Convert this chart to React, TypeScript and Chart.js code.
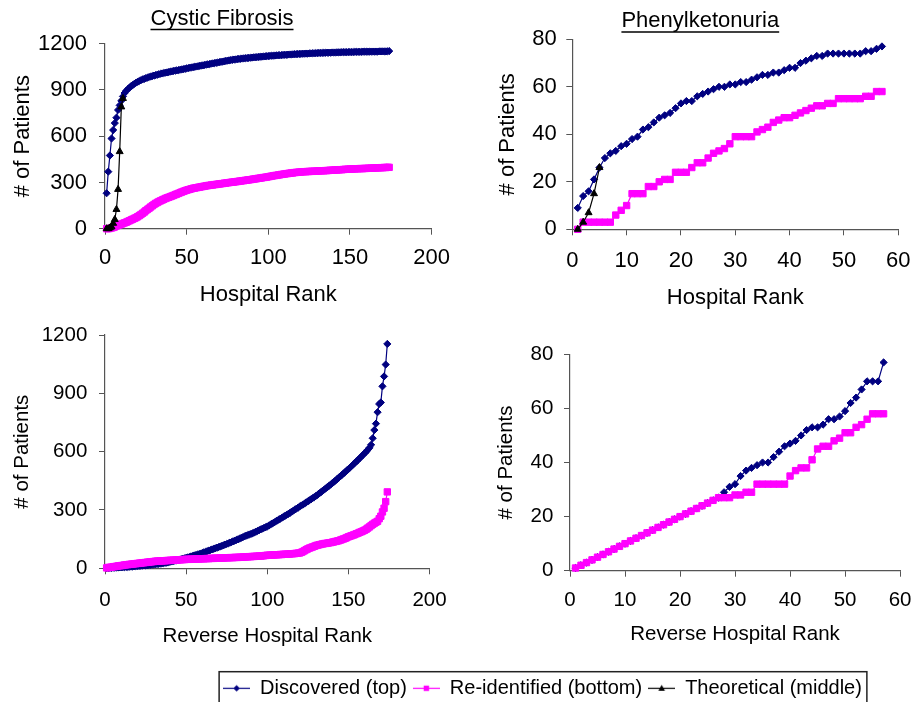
import React, { useEffect, useRef } from 'react';
import { Chart, registerables } from 'chart.js';

Chart.register(...registerables);

const FONT = "'Liberation Sans', Arial, Helvetica, sans-serif";
const NAVY = '#000080';
const MAGENTA = '#ff00ff';
const BLACK = '#000000';
const AXIS = '#555555';

const seriesLabels = ['Discovered (top)', 'Re-identified (bottom)', 'Theoretical (middle)'];
const panelTitles = ['Cystic Fibrosis', 'Phenylketonuria'];
const xTitles = ['Hospital Rank', 'Reverse Hospital Rank'];
const yTitle = '# of Patients';

// ---------- Cystic Fibrosis, hospital rank (174 hospitals) ----------
const cfDiscovered = [
  230, 370, 475, 585, 640, 685, 720, 770, 800, 830,
  858, 880, 895, 905, 915, 925, 932, 940, 947, 953,
  958, 963, 968, 972, 976, 980, 984, 987, 990, 993,
  996, 999, 1002, 1005, 1007, 1010, 1012, 1014, 1016, 1019,
  1021, 1023, 1025, 1027, 1029, 1031, 1033, 1035, 1037, 1040,
  1042, 1044, 1046, 1048, 1050, 1052, 1054, 1056, 1058, 1060,
  1062, 1064, 1066, 1068, 1070, 1072, 1074, 1076, 1078, 1080,
  1082, 1084, 1086, 1088, 1090, 1092, 1094, 1095, 1097, 1098,
  1100, 1101, 1102, 1104, 1105, 1106, 1107, 1108, 1109, 1110,
  1111, 1112, 1113, 1114, 1115, 1116, 1117, 1118, 1119, 1120,
  1121, 1122, 1122, 1123, 1124, 1125, 1125, 1126, 1127, 1128,
  1128, 1129, 1130, 1130, 1131, 1132, 1132, 1133, 1134, 1134,
  1135, 1135, 1136, 1136, 1137, 1137, 1138, 1138, 1139, 1139,
  1140, 1140, 1140, 1141, 1141, 1142, 1142, 1142, 1143, 1143,
  1143, 1144, 1144, 1144, 1145, 1145, 1145, 1145, 1146, 1146,
  1146, 1146, 1147, 1147, 1147, 1147, 1147, 1148, 1148, 1148,
  1148, 1148, 1149, 1149, 1149, 1149, 1149, 1150, 1150, 1150,
  1150, 1150, 1151, 1152,
];
const cfReidentified = [
  0, 0, 2, 5, 8, 12, 18, 22, 26, 30,
  34, 38, 42, 47, 52, 57, 62, 67, 72, 78,
  85, 92, 100, 108, 117, 125, 133, 141, 149, 157,
  164, 170, 176, 181, 186, 191, 196, 200, 204, 208,
  212, 216, 221, 225, 229, 234, 238, 242, 246, 250,
  253, 256, 259, 262, 264, 266, 268, 270, 272, 274,
  276, 278, 280, 281, 283, 284, 286, 287, 289, 290,
  292, 293, 295, 296, 298, 299, 301, 302, 303, 305,
  306, 308, 309, 311, 312, 314, 315, 317, 318, 320,
  322, 323, 325, 327, 328, 330, 332, 333, 335, 337,
  339, 341, 343, 345, 346, 348, 350, 352, 353, 355,
  357, 358, 360, 361, 362, 364, 365, 366, 367, 368,
  369, 370, 370, 371, 371, 372, 372, 373, 373, 374,
  375, 375, 376, 376, 377, 377, 378, 379, 379, 380,
  381, 381, 382, 383, 383, 384, 385, 385, 386, 387,
  387, 388, 388, 389, 389, 390, 390, 390, 391, 391,
  392, 392, 393, 393, 394, 394, 395, 395, 396, 396,
  397, 397, 398, 398,
];
const cfTheoretical = [0, 0, 5, 12, 35, 60, 125, 255, 500, 790, 845];

// ---------- Cystic Fibrosis, reverse hospital rank ----------
const cfRevDiscovered = [
  1, 1, 2, 2, 3, 3, 4, 4, 5, 5,
  6, 6, 7, 7, 8, 9, 9, 10, 11, 12,
  12, 13, 14, 15, 15, 16, 17, 18, 19, 20,
  21, 22, 23, 24, 25, 27, 28, 29, 31, 33,
  35, 37, 39, 41, 43, 45, 47, 49, 51, 54,
  56, 58, 61, 63, 66, 68, 71, 73, 76, 79,
  82, 85, 88, 91, 94, 97, 100, 103, 106, 109,
  112, 115, 118, 122, 125, 128, 132, 135, 139, 142,
  146, 149, 153, 157, 160, 164, 168, 171, 174, 177,
  180, 184, 188, 192, 196, 200, 204, 208, 211, 215,
  220, 225, 230, 235, 240, 245, 250, 255, 260, 265,
  270, 275, 280, 285, 291, 296, 302, 307, 312, 318,
  323, 328, 333, 339, 344, 350, 355, 361, 366, 372,
  378, 385, 391, 398, 404, 411, 417, 424, 430, 437,
  444, 451, 458, 466, 473, 480, 488, 495, 503, 510,
  518, 526, 534, 542, 550, 558, 566, 575, 583, 592,
  600, 610, 620, 635, 669, 711, 744, 803, 845, 853,
  936, 987, 1048, 1154,
];
const cfRevReidentified = [
  2, 4, 5, 6, 8, 9, 10, 12, 13, 14,
  15, 17, 18, 19, 20, 21, 22, 23, 24, 25,
  26, 27, 28, 29, 30, 31, 32, 33, 34, 35,
  36, 37, 37, 38, 38, 39, 39, 40, 40, 41,
  41, 42, 42, 43, 43, 44, 44, 45, 45, 46,
  46, 46, 47, 47, 47, 48, 48, 48, 49, 49,
  49, 50, 50, 50, 51, 51, 51, 52, 52, 52,
  53, 53, 53, 54, 54, 54, 55, 55, 55, 56,
  56, 56, 57, 57, 58, 58, 59, 59, 60, 60,
  61, 61, 62, 62, 63, 63, 64, 65, 66, 67,
  67, 68, 68, 69, 69, 70, 70, 71, 71, 72,
  72, 73, 73, 74, 75, 75, 76, 77, 78, 79,
  82, 86, 91, 96, 100, 104, 107, 110, 113, 117,
  119, 121, 123, 125, 127, 128, 129, 131, 132, 134,
  136, 138, 140, 142, 145, 148, 151, 154, 158, 162,
  165, 168, 171, 174, 178, 181, 185, 188, 192, 196,
  201, 207, 213, 220, 226, 232, 237, 242, 255, 268,
  290, 309, 343, 393,
];

// ---------- Phenylketonuria, hospital rank (57 hospitals) ----------
const pkuDiscovered = [
  9, 14, 16, 21, 26, 30, 32, 33, 35, 36,
  38, 39, 42, 43, 45, 47, 48, 49, 51, 53,
  54, 54, 56, 57, 58, 59, 60, 60, 61, 61,
  62, 62, 63, 64, 65, 65, 66, 66, 67, 68,
  68, 70, 71, 72, 73, 73, 74, 74, 74, 74,
  74, 74, 74, 75, 75, 76, 77,
];
const pkuReidentified = [
  0, 3, 3, 3, 3, 3, 3, 6, 8, 10,
  15, 15, 15, 18, 18, 20, 21, 21, 24, 24,
  24, 26, 28, 28, 30, 32, 33, 34, 36, 39,
  39, 39, 39, 41, 42, 43, 45, 46, 47, 47,
  48, 49, 50, 51, 52, 52, 53, 53, 55, 55,
  55, 55, 55, 56, 56, 58, 58,
];
const pkuTheoretical = [0, 3, 7, 15, 26];

// ---------- Phenylketonuria, reverse hospital rank ----------
const pkuRevDiscovered = [
  1, 2, 3, 4, 5, 6, 7, 8, 9, 10,
  11, 12, 13, 14, 15, 16, 17, 18, 19, 20,
  21, 22, 23, 24, 25, 26, 27, 29, 31, 32,
  35, 37, 38, 39, 40, 40, 42, 44, 46, 47,
  48, 50, 52, 53, 53, 54, 56, 56, 57, 59,
  62, 64, 67, 70, 70, 70, 77,
];
const pkuRevReidentified = [
  1, 2, 3, 4, 5, 6, 7, 8, 9, 10,
  11, 12, 13, 14, 15, 16, 17, 18, 19, 20,
  21, 22, 23, 24, 25, 26, 27, 27, 27, 28,
  28, 29, 29, 32, 32, 32, 32, 32, 32, 35,
  37, 38, 38, 41, 45, 46, 46, 48, 49, 51,
  51, 53, 54, 56, 58, 58, 58,
];

// ---------- axis ranges / ticks ----------
const cfXTicks = [0, 50, 100, 150, 200];
const cfYTicks = [0, 300, 600, 900, 1200];
const pkuXTicks = [0, 10, 20, 30, 40, 50, 60];
const pkuYTicks = [0, 20, 40, 60, 80];

const byRank = (vals: number[]) => vals.map((v, i) => ({ x: i + 1, y: v }));

type TitleSpec = { text: string; cx: number; baseline: number; uy: number } | null;

type PanelSpec = {
  left: number;
  top: number;
  width: number;
  height: number;
  font: number;
  padTop: number;
  padRight: number;
  yw: number;
  xh: number;
  yTickPad: number;
  xTickPad: number;
  yTitlePad: number;
  xTitlePad: number;
  xTitle: string;
  xTicks: number[];
  yTicks: number[];
  discovered: number[];
  reidentified: number[];
  theoretical: number[] | null;
  title: TitleSpec;
};

const panels: PanelSpec[] = [
  {
    left: 0, top: 0, width: 460, height: 311, font: 22,
    padTop: 43.7, padRight: 22.3, yw: 105, xh: 82.3,
    yTickPad: 12, xTickPad: 10, yTitlePad: 9.3, xTitlePad: 3.3,
    xTitle: xTitles[0], xTicks: cfXTicks, yTicks: cfYTicks,
    discovered: cfDiscovered, reidentified: cfReidentified, theoretical: cfTheoretical,
    title: { text: panelTitles[0], cx: 222, baseline: 25, uy: 29.5 },
  },
  {
    left: 460, top: 0, width: 463, height: 311, font: 22,
    padTop: 39.3, padRight: 15.3, yw: 112.3, xh: 81.7,
    yTickPad: 9.5, xTickPad: 12.5, yTitlePad: 34.8, xTitlePad: 0.3,
    xTitle: xTitles[0], xTicks: pkuXTicks, yTicks: pkuYTicks,
    discovered: pkuDiscovered, reidentified: pkuReidentified, theoretical: pkuTheoretical,
    title: { text: panelTitles[1], cx: 240.3, baseline: 27.3, uy: 32 },
  },
  {
    left: 0, top: 311, width: 460, height: 345, font: 20.5,
    padTop: 18, padRight: 26.7, yw: 105, xh: 87.7,
    yTickPad: 11.7, xTickPad: 13.4, yTitlePad: 9.7, xTitlePad: 7.4,
    xTitle: xTitles[1], xTicks: cfXTicks, yTicks: cfYTicks,
    discovered: cfRevDiscovered, reidentified: cfRevReidentified, theoretical: null,
    title: null,
  },
  {
    left: 460, top: 311, width: 463, height: 345, font: 20.5,
    padTop: 43.3, padRight: 15.3, yw: 110, xh: 85.3,
    yTickPad: 10.7, xTickPad: 11.5, yTitlePad: 34.4, xTitlePad: 9.5,
    xTitle: xTitles[1], xTicks: pkuXTicks, yTicks: pkuYTicks,
    discovered: pkuRevDiscovered, reidentified: pkuRevReidentified, theoretical: null,
    title: null,
  },
];

function Panel({ spec }: { spec: PanelSpec }) {
  const ref = useRef<HTMLCanvasElement | null>(null);
  useEffect(() => {
    if (!ref.current) return;
    const isTop = spec.theoretical !== null;
    const datasets: any[] = [
      {
        label: seriesLabels[1],
        data: byRank(spec.reidentified),
        borderColor: MAGENTA,
        backgroundColor: MAGENTA,
        pointStyle: 'rect',
        pointRadius: 4.5,
        pointBorderWidth: 1,
        pointBorderColor: MAGENTA,
        pointBackgroundColor: MAGENTA,
        borderWidth: 1.2,
        order: isTop ? 3 : 1,
        clip: false,
      },
      {
        label: seriesLabels[0],
        data: byRank(spec.discovered),
        borderColor: NAVY,
        backgroundColor: NAVY,
        pointStyle: 'rectRot',
        pointRadius: 3.6,
        pointBorderWidth: 1,
        pointBorderColor: NAVY,
        pointBackgroundColor: NAVY,
        borderWidth: 1.2,
        order: 2,
        clip: false,
      },
    ];
    if (spec.theoretical) {
      datasets.push({
        label: seriesLabels[2],
        data: byRank(spec.theoretical),
        borderColor: BLACK,
        backgroundColor: BLACK,
        pointStyle: 'triangle',
        pointRadius: 4,
        pointBorderWidth: 1,
        pointBorderColor: BLACK,
        pointBackgroundColor: BLACK,
        borderWidth: 1.2,
        order: 0,
        clip: false,
      });
    }
    const t = spec.title;
    const titlePlugin = {
      id: 'panelTitle',
      afterDraw(chart: any) {
        if (!t) return;
        const ctx = chart.ctx;
        ctx.save();
        ctx.font = `22px ${FONT}`;
        ctx.fillStyle = '#000';
        ctx.textAlign = 'center';
        ctx.textBaseline = 'alphabetic';
        ctx.fillText(t.text, t.cx, t.baseline);
        const w = ctx.measureText(t.text).width;
        ctx.strokeStyle = '#000';
        ctx.lineWidth = 1.3;
        ctx.beginPath();
        ctx.moveTo(t.cx - w / 2, t.uy);
        ctx.lineTo(t.cx + w / 2, t.uy);
        ctx.stroke();
        ctx.restore();
      },
    };
    const font = { family: FONT, size: spec.font };
    const xMin = spec.xTicks[0];
    const xMax = spec.xTicks[spec.xTicks.length - 1];
    const yMin = spec.yTicks[0];
    const yMax = spec.yTicks[spec.yTicks.length - 1];
    const plain = (v: any) => String(v);
    const chart = new Chart(ref.current, {
      type: 'line',
      data: { datasets },
      options: {
        responsive: false,
        animation: false,
        devicePixelRatio: 1,
        events: [],
        layout: { padding: { top: spec.padTop, right: spec.padRight, left: 0, bottom: 0 } },
        plugins: {
          legend: { display: false },
          tooltip: { enabled: false },
          title: { display: false },
        },
        elements: { line: { tension: 0 } },
        scales: {
          x: {
            type: 'linear',
            min: xMin,
            max: xMax,
            afterBuildTicks: (scale: any) => {
              scale.ticks = spec.xTicks.map((v) => ({ value: v }));
            },
            ticks: {
              font, color: '#000', padding: spec.xTickPad, maxRotation: 0, autoSkip: false,
              callback: plain,
            },
            grid: { drawOnChartArea: false, drawTicks: true, tickLength: 6, color: AXIS, lineWidth: 1 },
            border: { display: true, color: AXIS, width: 1.2 },
            title: {
              display: true,
              text: spec.xTitle,
              font,
              color: '#000',
              padding: { top: 0, bottom: spec.xTitlePad },
            },
            afterFit: (scale: any) => {
              scale.height = spec.xh;
            },
          },
          y: {
            type: 'linear',
            min: yMin,
            max: yMax,
            afterBuildTicks: (scale: any) => {
              scale.ticks = spec.yTicks.map((v) => ({ value: v }));
            },
            ticks: { font, color: '#000', padding: spec.yTickPad, autoSkip: false, callback: plain },
            grid: { drawOnChartArea: false, drawTicks: true, tickLength: 6, color: AXIS, lineWidth: 1 },
            border: { display: true, color: AXIS, width: 1.2 },
            title: {
              display: true,
              text: yTitle,
              font,
              color: '#000',
              padding: { top: spec.yTitlePad, bottom: 0 },
            },
            afterFit: (scale: any) => {
              scale.width = spec.yw;
            },
          },
        },
      } as any,
      plugins: [titlePlugin],
    });
    return () => chart.destroy();
  }, [spec]);
  return (
    <canvas
      ref={ref}
      width={spec.width}
      height={spec.height}
      style={{
        position: 'absolute',
        left: spec.left,
        top: spec.top,
        width: spec.width,
        height: spec.height,
      }}
    />
  );
}

function makeSample(kind: 'diamond' | 'square' | 'triangle', color: string): HTMLCanvasElement {
  const c = document.createElement('canvas');
  c.width = 27;
  c.height = 11;
  const ctx = c.getContext('2d')!;
  ctx.strokeStyle = color;
  ctx.fillStyle = color;
  ctx.lineWidth = 1.2;
  ctx.beginPath();
  ctx.moveTo(0, 5.5);
  ctx.lineTo(27, 5.5);
  ctx.stroke();
  const cx = 13.5;
  const cy = 5.5;
  ctx.beginPath();
  if (kind === 'diamond') {
    ctx.moveTo(cx, cy - 3.2);
    ctx.lineTo(cx + 3.2, cy);
    ctx.lineTo(cx, cy + 3.2);
    ctx.lineTo(cx - 3.2, cy);
  } else if (kind === 'square') {
    ctx.rect(cx - 2.7, cy - 2.7, 5.4, 5.4);
  } else {
    ctx.moveTo(cx, cy - 3.5);
    ctx.lineTo(cx + 3.3, cy + 2.5);
    ctx.lineTo(cx - 3.3, cy + 2.5);
  }
  ctx.closePath();
  ctx.fill();
  return c;
}

const LEGEND_H = 90;

function LegendChart() {
  const ref = useRef<HTMLCanvasElement | null>(null);
  useEffect(() => {
    if (!ref.current) return;
    const samples = [
      makeSample('diamond', NAVY),
      makeSample('square', MAGENTA),
      makeSample('triangle', BLACK),
    ];
    const colors = [NAVY, MAGENTA, BLACK];
    const borderPlugin = {
      id: 'legendBorder',
      afterDraw(chart: any) {
        const lg = chart.legend;
        if (!lg || !lg.legendHitBoxes || !lg.legendHitBoxes.length) return;
        const hb = lg.legendHitBoxes;
        const l = hb[0].left - 4;
        const last = hb[hb.length - 1];
        const r = last.left + last.width + 5;
        const ctx = chart.ctx;
        ctx.save();
        ctx.strokeStyle = '#222';
        ctx.lineWidth = 1.5;
        ctx.strokeRect(l, 1.7, r - l, 40);
        ctx.restore();
      },
    };
    const chart = new Chart(ref.current, {
      type: 'line',
      data: {
        datasets: seriesLabels.map((s, i) => ({ label: s, data: [], borderColor: colors[i] })),
      },
      options: {
        responsive: false,
        animation: false,
        devicePixelRatio: 1,
        events: [],
        layout: { padding: { top: 2.3, left: 0, right: 0, bottom: 0 } },
        scales: { x: { display: false }, y: { display: false } },
        plugins: {
          tooltip: { enabled: false },
          legend: {
            display: true,
            position: 'top',
            align: 'center',
            labels: {
              usePointStyle: true,
              pointStyleWidth: 27,
              padding: 6,
              color: '#000',
              font: { family: FONT, size: 20 },
              generateLabels: () =>
                seriesLabels.map((s, i) => ({
                  text: s,
                  pointStyle: samples[i],
                  fillStyle: colors[i],
                  strokeStyle: colors[i],
                  lineWidth: 0,
                  hidden: false,
                  datasetIndex: i,
                  fontColor: '#000',
                })),
            },
          },
        },
      } as any,
      plugins: [borderPlugin],
    });
    return () => chart.destroy();
  }, []);
  return (
    <canvas
      ref={ref}
      width={699}
      height={LEGEND_H}
      style={{ position: 'absolute', left: 193, top: 670, width: 699, height: LEGEND_H }}
    />
  );
}

export default function App() {
  return (
    <div
      style={{
        position: 'absolute',
        left: 0,
        top: 0,
        width: 923,
        height: 702,
        background: '#fff',
        overflow: 'hidden',
      }}
    >
      {panels.map((p, i) => (
        <Panel key={i} spec={p} />
      ))}
      <LegendChart />
    </div>
  );
}
